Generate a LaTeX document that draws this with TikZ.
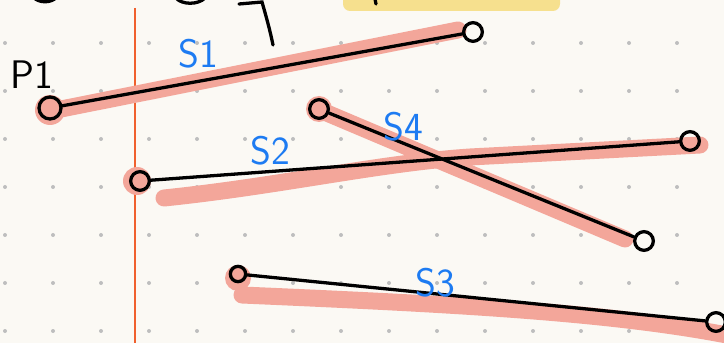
\documentclass[tikz,border=0pt]{standalone}
\usepackage{tikz}
\usetikzlibrary{calc}
\definecolor{paper}{HTML}{FBF9F4}
\definecolor{griddot}{HTML}{BEBEBE}
\definecolor{hlpink}{HTML}{F3A69A}
\definecolor{inkblue}{HTML}{1D7BF2}
\definecolor{marginred}{HTML}{F0602E}
\definecolor{hlyellow}{HTML}{F6E08E}

\begin{document}
\begin{tikzpicture}[x=0.03cm, y=-0.03cm,
  endpt/.style={draw=black, line width=2.8pt, circle, minimum size=0.56cm, inner sep=0pt},
  segline/.style={draw=black, line width=2.8pt, line cap=round},
  hilite/.style={draw=hlpink, line width=14.5pt, line cap=round},
  seglbl/.style={text=inkblue, font=\sffamily\fontsize{34}{34}\selectfont, inner sep=0pt}]
  \fill[paper] (0,0) rectangle (724,343);
  \useasboundingbox (0,0) rectangle (724,343);
  \foreach \i in {0,...,14}
    \foreach \j in {0,...,6}
      \fill[griddot] (5+48*\i,43+48*\j) circle (2);
  \fill[hlyellow, rounded corners=6pt] (343,-10) rectangle (560,11);
  \draw[black, line width=2.8pt, line cap=round] (375,-1) -- (376,4);
  \draw[black, line width=2.8pt, line cap=round] (34,-2) .. controls (40,3) and (50,3) .. (56,-2);
  \draw[black, line width=2.8pt, line cap=round] (176,-2) .. controls (182,5) and (198,5) .. (205,-2);
  \draw[black, line width=2.8pt, line cap=round] (239,4) -- (262,2) .. controls (266,16) and (270,30) .. (273,45);
  \draw[marginred, line width=1.8pt] (135,8) -- (135,343);
  \coordinate (h1a) at (56,110);
  \coordinate (h1b) at (458,30);
  \coordinate (h2a) at (164,198);
  \coordinate (h2m) at (470,157);
  \coordinate (h2b) at (700,145);
  \coordinate (h4a) at (322,111);
  \coordinate (h4b) at (625,239);
  \coordinate (h3a) at (242,295);
  \coordinate (h3b) at (732,336);
  \fill[hlpink] (50,110) circle (15);
  \fill[hlpink] (137,181) circle (14);
  \fill[hlpink] (319,109) circle (13);
  \fill[hlpink] (238,278) circle (13);
  \draw[hilite] (h1a) -- (h1b);
  \draw[hilite] (h2a) .. controls (280,186) and (380,163) .. (h2m) -- (h2b);
  \draw[hilite] (h4a) -- (h4b);
  \draw[hilite] (h3a) .. controls (450,304) and (610,312) .. (h3b);
  \node[endpt, minimum size=0.66cm] (p1) at (50,108) {};
  \node[endpt] (s1b) at (473,32) {};
  \node[endpt] (s2a) at (140,181) {};
  \node[endpt] (s2b) at (690,141) {};
  \node[endpt] (s4a) at (319,109) {};
  \node[endpt] (s4b) at (644,241) {};
  \node[endpt, minimum size=0.46cm] (s3a) at (238,274) {};
  \node[endpt] (s3b) at (716,322) {};
  \draw[segline] (p1) -- (s1b);
  \draw[segline] (s2a) -- (s2b);
  \draw[segline] (s4a) -- (s4b);
  \draw[segline] (s3a) -- (s3b);
  \node[font=\sffamily\fontsize{34}{34}\selectfont, inner sep=0pt] (p1lbl) at (32,75) {P1};
  \node[seglbl] (s1lbl) at (198,54) {S1};
  \node[seglbl] (s2lbl) at (270,151) {S2};
  \node[seglbl] (s4lbl) at (403,127) {S4};
  \node[seglbl] (s3lbl) at (435,283) {S3};
\end{tikzpicture}
\end{document}
